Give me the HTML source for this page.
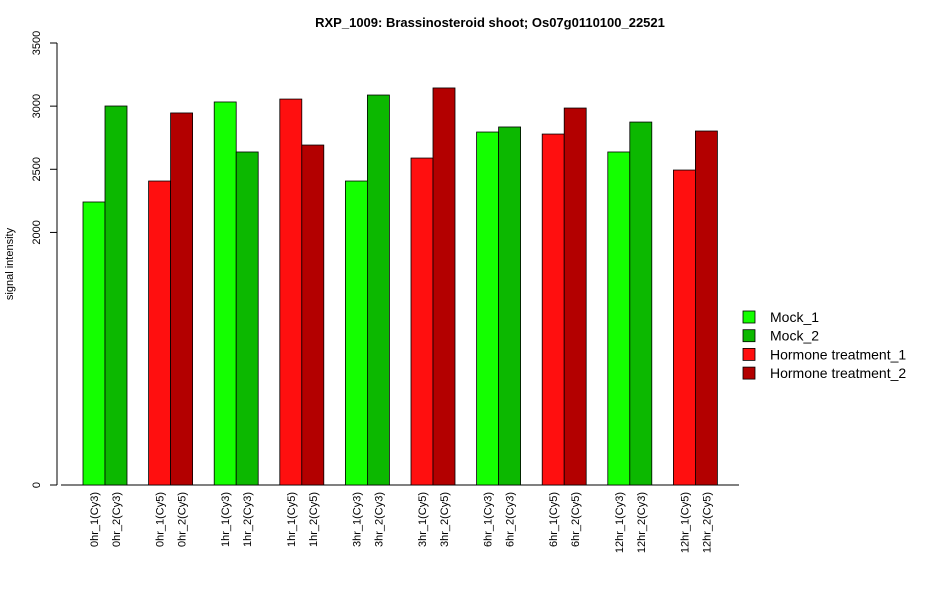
<!DOCTYPE html>
<html><head><meta charset="utf-8"><style>
body{margin:0;background:#fff}
svg text{font-family:"Liberation Sans",Arial,sans-serif}
</style></head><body>
<svg id="chart" width="950" height="600" xmlns="http://www.w3.org/2000/svg">
<text x="490" y="27" text-anchor="middle" font-size="13" font-weight="bold">RXP_1009: Brassinosteroid shoot; Os07g0110100_22521</text>
<text transform="translate(13,264) rotate(-90)" text-anchor="middle" font-size="11">signal intensity</text>
<g id="yaxis"></g>
<g id="bars"></g>
<g id="xlabels"></g>
<g id="legend"></g>
</svg>
<script>
const categories=["0hr_1(Cy3)","0hr_2(Cy3)","0hr_1(Cy5)","0hr_2(Cy5)","1hr_1(Cy3)","1hr_2(Cy3)","1hr_1(Cy5)","1hr_2(Cy5)","3hr_1(Cy3)","3hr_2(Cy3)","3hr_1(Cy5)","3hr_2(Cy5)","6hr_1(Cy3)","6hr_2(Cy3)","6hr_1(Cy5)","6hr_2(Cy5)","12hr_1(Cy3)","12hr_2(Cy3)","12hr_1(Cy5)","12hr_2(Cy5)"];
const values=[2241,3001,2407,2946,3033,2637,3056,2692,2407,3088,2589,3144,2795,2835,2779,2985,2637,2874,2494,2803];
const seriesIndex=[0,1,2,3,0,1,2,3,0,1,2,3,0,1,2,3,0,1,2,3];
const seriesNames=["Mock_1","Mock_2","Hormone treatment_1","Hormone treatment_2"];
const yTicks=[0,2000,2500,3000,3500];
const colors=["#14ff00","#0cb800","#ff0f0f","#b30000"];
const NS="http://www.w3.org/2000/svg";
function mk(tag,attrs,parent){const e=document.createElementNS(NS,tag);for(const k in attrs)e.setAttribute(k,attrs[k]);parent.appendChild(e);return e;}
const y0=485,yMax=3500,yTop=43;
function y(v){return y0-(v/yMax)*(y0-yTop);}
const barW=22,groupStep=65.6,x0=83;
function x(i){return x0+Math.floor(i/2)*groupStep+(i%2)*barW;}
const ya=document.getElementById('yaxis');
let l=mk('line',{x1:57,x2:57,y1:y(0),y2:y(3500),stroke:'#000'},ya);


yTicks.forEach(t=>{
 const tk=mk('line',{x1:50,x2:57,y1:y(t),y2:y(t),stroke:'#000'},ya);
 
 
 const tx=mk('text',{transform:`translate(40,${y(t)}) rotate(-90)`,'text-anchor':'middle','font-size':'11'},ya);
 tx.textContent=t;
 
 
});
const bl=mk('line',{x1:61,x2:739,y1:y0,y2:y0,stroke:'#000'},ya);


const bg=document.getElementById('bars'),xl=document.getElementById('xlabels');
values.forEach((v,i)=>{
 const r=mk('rect',{x:x(i),y:y(v),width:barW,height:y0-y(v),fill:colors[seriesIndex[i]],stroke:'#000','stroke-width':0.8},bg);
 
 
 const t=mk('text',{transform:`translate(${x(i)+barW/2+4},492) rotate(-90)`,'text-anchor':'end','font-size':'11'},xl);
 t.textContent=categories[i];
 
 
});
const lg=document.getElementById('legend');
seriesNames.forEach((n,i)=>{
 const r=mk('rect',{x:743,y:311+i*18.7,width:12,height:12,fill:colors[i],stroke:'#000','stroke-width':0.8},lg);
 
 
 const t=mk('text',{x:770,y:322+i*18.7,'font-size':'14'},lg);
 t.textContent=n;
 
 
});
</script>
</body></html>
